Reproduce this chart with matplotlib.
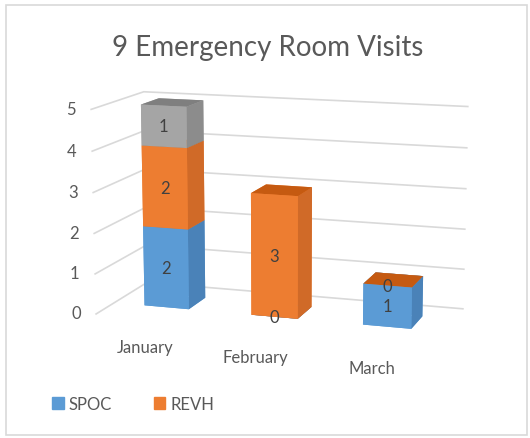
import numpy as np
import matplotlib.pyplot as plt
from matplotlib.patches import Rectangle

months = ["January", "February", "March"]
spoc = [2, 0, 1]
revh = [2, 3, 0]
other = [1, None, None]

# name, values, front colour, top colour, side colour
series = [("SPOC", spoc, "#5B9BD5", "#41719C", "#4A82B8"),
          ("REVH", revh, "#ED7D31", "#C55A11", "#D06A28"),
          ("", other, "#A5A5A5", "#7F7F7F", "#8C8C8C")]

plt.rcParams["font.family"] = ["Lato", "DejaVu Sans"]
txt = "#595959"

fig = plt.figure(figsize=(5.3, 4.39), dpi=100)
fig.patches.append(Rectangle((0.012, 0.006), 0.982, 0.98, transform=fig.transFigure,
                             fill=False, edgecolor="#D9D9D9", linewidth=1.2))
fig.text(0.505, 0.89, "9 Emergency Room Visits", ha="center", va="center",
         fontsize=20, color=txt)

ax = fig.add_axes([-0.04, 0.075, 1.12, 0.86], projection="3d")
ax.set_proj_type("persp", focal_length=0.8)

# stacked 3D columns, all in one collection so the depth sort is right
w, d, y0 = 0.42, 0.35, 0.35
xs, ys, zs, dxs, dys, dzs, cols = [], [], [], [], [], [], []
labels = []
for name, vals, front, top, side in series:
    for i, v in enumerate(vals):
        if v is None:
            continue
        if name == "SPOC":
            base = 0
        elif name == "REVH":
            base = spoc[i]
        else:
            base = spoc[i] + revh[i]
        xs.append(i - w / 2); ys.append(y0); zs.append(base)
        dxs.append(w); dys.append(d); dzs.append(v)
        cols += [front, top, front, front, front, side]
        labels.append((i, base + v / 2, v))

ax.bar3d(xs, ys, zs, dxs, dys, dzs, color=cols, shade=False, edgecolor="none")

for i, zc, v in labels:
    ax.text(i, y0, zc, str(v), ha="center", va="center", fontsize=12, color="#404040")

ax.set_xlim(-0.5, 2.5)
ax.set_ylim(0, 1)
ax.set_zlim(0, 5)
ax.set_xticks(range(len(months)))
ax.set_xticklabels(months, fontsize=12, color=txt)
ax.set_yticks([])
ax.set_zticks(range(6))
ax.set_zticklabels([])
# value labels sit just left of the front-left wall edge
for k in ax.get_zticks():
    ax.text(-0.64, 0, k, f"{k:g}", ha="right", va="center", fontsize=12, color=txt)

for a in (ax.xaxis, ax.yaxis, ax.zaxis):
    a.set_pane_color((1, 1, 1, 0))
    a.pane.set_edgecolor((1, 1, 1, 0))
    a.line.set_color((1, 1, 1, 0))
    a.label.set_visible(False)
    a.offsetText.set_visible(False)
    a._axinfo["tick"]["inward_factor"] = 0
    a._axinfo["tick"]["outward_factor"] = 0
    a._axinfo["grid"]["color"] = "#D9D9D9"
    a._axinfo["grid"]["linewidth"] = 1.2
ax.xaxis._axinfo["grid"]["color"] = (1, 1, 1, 0)
ax.zaxis.pane.set_edgecolor("#D9D9D9")

ax.set_box_aspect((3.35, 1.3, 2.0), zoom=1.10)
ax.view_init(elev=12, azim=-72)

hs = [Rectangle((0, 0), 1, 1, color=series[0][2]), Rectangle((0, 0), 1, 1, color=series[1][2])]
fig.legend(hs, ["SPOC", "REVH"], loc="lower left", bbox_to_anchor=(0.07, 0.025), ncol=2,
           frameon=False, fontsize=12, handlelength=0.7, handleheight=0.7,
           handletextpad=0.3, columnspacing=2.5, labelcolor=txt)

fig.savefig("out.png", dpi=100)
